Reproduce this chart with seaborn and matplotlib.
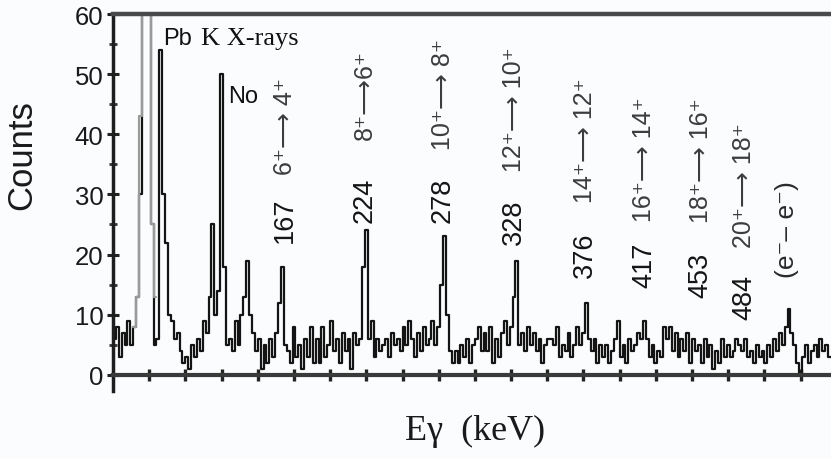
import numpy as np
import pandas as pd
import matplotlib
matplotlib.use("Agg")
import matplotlib.pyplot as plt
import seaborn as sns

# ---------------- data ----------------
bin_start_kev = 50
bin_width_kev = 2
# counts per 2-keV bin, 50 .. 546 keV
counts = [
    6, 8, 3, 7, 5,        # 50
    9, 5, 8, 13, 30,      # 60
    80, 70, 80, 25, 5,    # 70
    6, 54, 30, 22, 10,    # 80
    9, 6, 7, 4, 2,        # 90
    3, 1, 5, 3, 6,        # 100
    4, 9, 7, 13, 25,      # 110
    10, 14, 50, 18, 5,    # 120
    6, 4, 9, 5, 10,       # 130
    13, 19, 10, 7, 4,     # 140
    6, 1, 5, 2, 6,        # 150
    3, 7, 12, 18, 5,      # 160
    4, 2, 8, 3, 5,        # 170
    1, 6, 3, 8, 2,        # 180
    6, 2, 8, 3, 5,        # 190
    9, 4, 6, 2, 7,        # 200
    4, 6, 1, 7, 5,        # 210
    6, 18, 24, 6, 9,      # 220
    3, 6, 4, 5, 6,        # 230
    3, 7, 5, 6, 4,        # 240
    8, 5, 9, 6, 3,        # 250
    7, 4, 8, 5, 6,        # 260
    9, 5, 8, 15, 23,      # 270
    10, 4, 2, 4, 2,       # 280
    5, 3, 6, 2, 5,        # 290
    6, 8, 4, 7, 4,        # 300
    8, 2, 6, 3, 7,        # 310
    9, 5, 8, 13, 19,      # 320
    5, 7, 4, 8, 5,        # 330
    7, 4, 6, 2, 5,        # 340
    6, 6, 5, 8, 3,        # 350
    5, 4, 7, 3, 5,        # 360
    8, 5, 7, 12, 6,       # 370
    4, 6, 2, 5, 3,        # 380
    5, 2, 4, 6, 9,        # 390
    3, 5, 2, 6, 4,        # 400
    5, 7, 6, 9, 6,        # 410
    3, 5, 2, 4, 3,        # 420
    8, 6, 8, 4, 7,        # 430
    3, 6, 4, 7, 2,        # 440
    6, 4, 5, 2, 6,        # 450
    3, 5, 1, 4, 2,        # 460
    6, 3, 5, 3, 4,        # 470
    6, 5, 4, 6, 3,        # 480
    4, 2, 5, 3, 4,        # 490
    2, 5, 3, 6, 4,        # 500
    7, 5, 8, 11, 7,       # 510
    5, 2, 0, 3, 5,        # 520
    2, 4, 5, 3, 6,        # 530
    4, 5, 3,              # 540
]
# grey (second) trace over the Pb K X-ray region
gray_start_kev = 64
gray_counts = [8, 13, 43, 80, 72, 80, 25, 13]

peak_energies = ["167", "224", "278", "328", "376", "417", "453", "484"]
transitions = ["6⁺⟶ 4⁺", "8⁺⟶6⁺", "10⁺⟶ 8⁺", "12⁺⟶ 10⁺",
               "14⁺⟶ 12⁺", "16⁺⟶ 14⁺", "18⁺⟶ 16⁺", "20⁺⟶ 18⁺"]
extra_label = "(e⁻– e⁻)"
extra_energy = 515.5

# ---------------- layout ----------------
label_dx = [2, 0, 0, -1, 0, 0, 3, 2]
num_bottom = [22.1, 25.4, 25.4, 21.8, 16.3, 14.6, 13.0, 9.3]
trans_bottom = [33.4, 39.2, 37.5, 33.9, 28.7, 25.6, 25.4, 21.3]

sns.set_style("white")
plt.rcParams["font.family"] = ["Liberation Sans", "DejaVu Sans"]

bg = "#fafcfd"
fig = plt.figure(figsize=(8.31, 4.6), dpi=100, facecolor=bg)
ax = fig.add_axes([0.136, 0.148, 0.864, 0.819], facecolor=bg)

edges = bin_start_kev + bin_width_kev * np.arange(len(counts) + 1)
df = pd.DataFrame({"energy": edges[:-1] + bin_width_kev / 2, "counts": counts})
sns.histplot(data=df, x="energy", weights="counts", bins=list(edges), element="step",
             fill=False, color="#141414", linewidth=1.6, ax=ax)

g_edges = gray_start_kev + bin_width_kev * np.arange(len(gray_counts) + 1)
gdf = pd.DataFrame({"energy": g_edges[:-1] + bin_width_kev / 2, "counts": gray_counts})
sns.histplot(data=gdf, x="energy", weights="counts", bins=list(g_edges), element="step",
             fill=False, color="#9a9a9a", linewidth=1.6, ax=ax)

ax.set_xlim(50, 546)
ax.set_ylim(-2.7, 60)

ax.spines["right"].set_visible(False)
ax.spines["bottom"].set_position(("data", 0))
ax.spines["bottom"].set_linewidth(3)
ax.spines["bottom"].set_color("#3a3a3a")
ax.spines["top"].set_linewidth(3.2)
ax.spines["top"].set_color("#4a4a4a")
ax.spines["left"].set_linewidth(2.5)
ax.spines["left"].set_color("#1e1e1e")

ax.set_xticks(np.arange(75, 546, 25))
ax.tick_params(axis="x", which="both", labelbottom=False, direction="inout",
               length=8, width=2.4, color="#222222", bottom=True)
ax.set_yticks(np.arange(0, 61, 10))
ax.set_yticks(np.arange(5, 60, 10), minor=True)
ax.tick_params(axis="y", which="major", direction="inout", length=8, width=2.2,
               color="#222222", labelsize=18.5, pad=3, labelcolor="#1a1a1a", left=True)
ax.tick_params(axis="y", which="minor", direction="inout", length=6, width=2,
               color="#333333", left=True)

ax.set_ylabel("Counts", fontsize=25, color="#1a1a1a")
ax.yaxis.label.set_va("center")
ax.yaxis.set_label_coords(-0.127, 0.63)
ax.set_xlabel("Eγ  (keV)", fontsize=26, family=["Liberation Serif", "DejaVu Serif"],
              color="#1a1a1a")
ax.xaxis.label.set_va("center")
ax.xaxis.set_label_coords(0.504, -0.106)

# annotations
ax.text(84.5, 56.0, "Pb", fontsize=17, ha="left", va="center", color="#111111")
ax.text(110.5, 56.0, "K X-rays", fontsize=19, ha="left", va="center",
        fontfamily="Liberation Serif", color="#111111")
ax.text(129.4, 46.3, "No", fontsize=17, ha="left", va="center", color="#111111")

for e, t, dx, nb, tb in zip(peak_energies, transitions, label_dx, num_bottom, trans_bottom):
    x = float(e) + dx
    ax.text(x, nb, e, rotation=90, ha="center", va="bottom", fontsize=19.5,
            color="#151515")
    ax.text(x, tb, t, rotation=90, ha="center", va="bottom", fontsize=18,
            color="#3c3c3c")
ax.text(extra_energy, 16.3, extra_label, rotation=90, ha="center", va="bottom",
        fontsize=19, color="#2a2a2a")

fig.savefig("out.png", dpi=100, facecolor=bg)
